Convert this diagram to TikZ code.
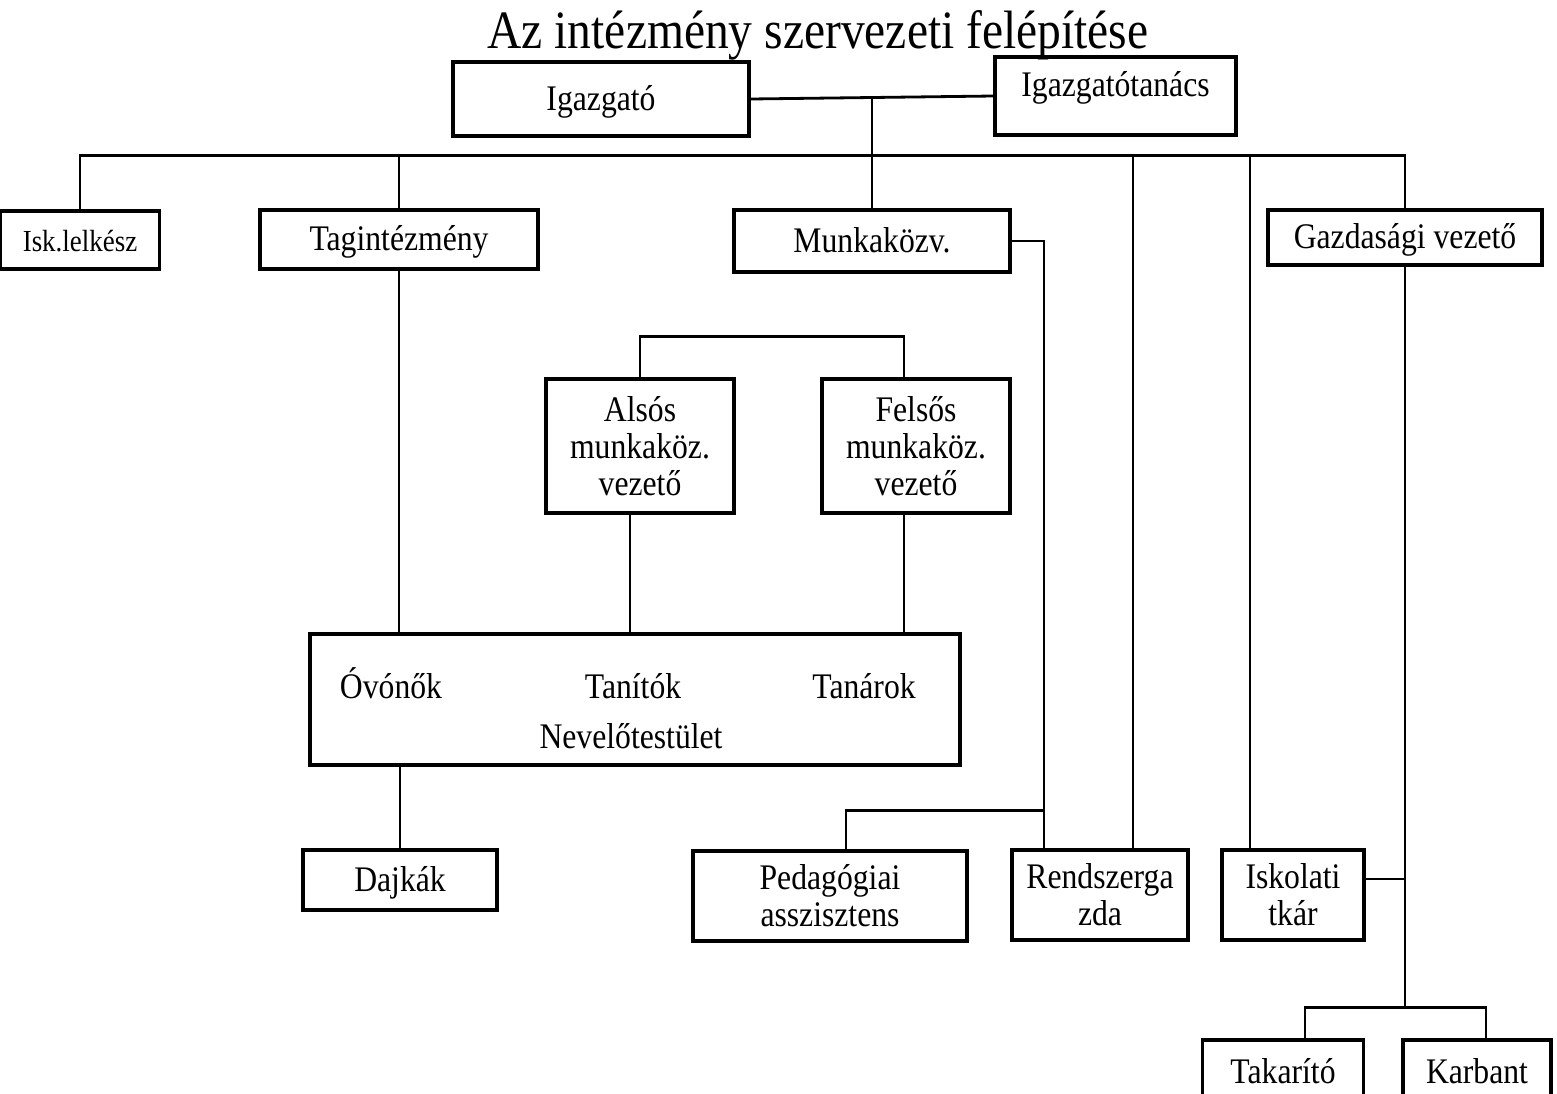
\documentclass[tikz,border=0pt]{standalone}
\usepackage{fontspec}
\setmainfont{Liberation Serif}[FakeStretch=0.88]
\usetikzlibrary{positioning,calc}
\tikzset{
  org/.style       = {draw, rectangle, line width=1.6pt, inner sep=0pt, align=center,
                      font=\fontsize{18}{18.5}\selectfont},
  one line/.style  = {text height=14pt, text depth=3pt},
  small org/.style = {org, one line, font=\fontsize{15.3}{16}\selectfont},
  member/.style    = {anchor=base, font=\fontsize{18}{18.5}\selectfont},
  heading/.style   = {font=\fontsize{27}{30}\selectfont},
  link/.style      = {line width=1.4pt}
}

\begin{document}
\begin{tikzpicture}[x=0.5pt, y=-0.5pt]
  \clip (0,0) rectangle (1557,1093);
  \node[heading, anchor=base] (title) at (818,48) {Az intézmény szervezeti felépítése};

  % vezetés
  \node[org, one line, minimum width=148pt, minimum height=37pt] (igazgato) at (601,99) {Igazgató};
  \node[org, minimum width=120.5pt, minimum height=39pt, text height=12.5pt, text depth=12pt] (tanacs) at (1115.5,96) {Igazgatótanács};

  % első szint
  \node[small org, minimum width=79.5pt, minimum height=29pt] (lelkesz) at (80,240) {Isk.lelkész};
  \node[org, one line, minimum width=139pt, minimum height=29.5pt] (tag) at (399,239.5) {Tagintézmény};
  \node[org, one line, minimum width=138pt, minimum height=31pt] (munka) at (872,241) {Munkaközv.};
  \node[org, one line, minimum width=137pt, minimum height=27.5pt] (gazd) at (1405,237.5) {Gazdasági vezető};

  % munkaközösségek
  \node[org, minimum width=94pt, minimum height=67pt] (also) at (640,446) {Alsós\\munkaköz.\\vezető};
  \node[org, minimum width=94pt, minimum height=67pt] (felso) at (916,446) {Felsős\\munkaköz.\\vezető};

  % nevelőtestület
  \node[org, minimum width=325pt, minimum height=65.5pt] (nevelo) at (635,699.5) {};
  \node[member] (ovono) at (391,698) {Óvónők};
  \node[member] (tanito) at (633,698) {Tanítók};
  \node[member] (tanar) at (864,698) {Tanárok};
  \node[member] (testulet) at (631,748) {Nevelőtestület};

  % alsó szint
  \node[org, one line, minimum width=97pt, minimum height=30pt] (dajka) at (400,880) {Dajkák};
  \node[org, minimum width=137pt, minimum height=45pt] (peda) at (830,896) {Pedagógiai\\asszisztens};
  \node[org, minimum width=88pt, minimum height=45pt] (rendszer) at (1100,895) {Rendszerga\\zda};
  \node[org, minimum width=71pt, minimum height=45pt] (titkar) at (1293,895) {Iskolati\\tkár};
  \node[org, one line, minimum width=80.5pt, minimum height=32.5pt] (takarito) at (1283,1072.5) {Takarító};
  \node[org, one line, minimum width=74pt, minimum height=32.5pt] (karbant) at (1477,1072.5) {Karbant};

  % kapcsolatok
  \draw[link] (igazgato.east) -- coordinate[pos=0.5] (hub) (tanacs.west);
  \draw[link] (hub) -- (munka.north);
  \coordinate (bus) at ($(munka.north)+(0,-53)$);
  \draw[link] (lelkesz.north) |- (bus) -| (gazd.north);
  \draw[link] (tag.north) -- (tag.north |- bus);
  \draw[link] ([xshift=16.5pt]rendszer.north) -- ([xshift=16.5pt]rendszer.north |- bus);
  \draw[link] ([xshift=-21.5pt]titkar.north) -- ([xshift=-21.5pt]titkar.north |- bus);
  \draw[link] (munka.east) -| ([xshift=-28pt]rendszer.north);
  \draw[link] ([xshift=8pt]peda.north) |- ([xshift=-28pt,yshift=19pt]rendszer.north);
  \draw[link] (tag.south) -- (tag.south |- nevelo.north);
  \draw[link] (also.north) -- ++(0,-41) -| ([xshift=-6pt]felso.north);
  \draw[link] ([xshift=-5pt]also.south) -- ([xshift=-5pt]also.south |- nevelo.north);
  \draw[link] ([xshift=-6pt]felso.south) -- ([xshift=-6pt]felso.south |- nevelo.north);
  \draw[link] (dajka.north) -- (dajka.north |- nevelo.south);
  \draw[link] (gazd.south) -- ++(0,741) coordinate (gj);
  \draw[link] ([xshift=11pt]takarito.north) |- (gj) -| ([xshift=4.5pt]karbant.north);
  \draw[link] ([yshift=8pt]titkar.east) -- ([yshift=8pt]titkar.east -| gj);
\end{tikzpicture}
\end{document}
